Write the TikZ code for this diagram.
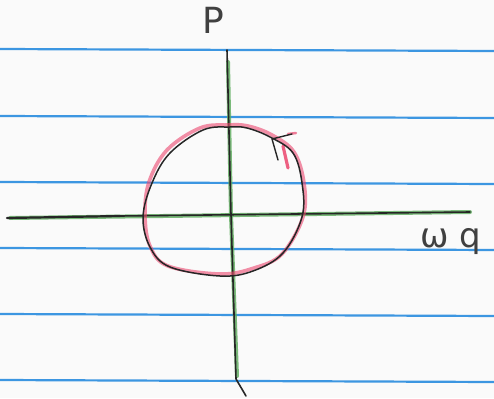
\documentclass[tikz,border=0pt]{standalone}
\usepackage{fontspec}
\setmainfont{DejaVu Sans}
\begin{document}
\begin{tikzpicture}[x=1pt,y=-1pt,line cap=round,line join=round,
  rule/.style={draw=ruleblue,line width=2.2pt},
  greenax/.style={draw=axgreen,line width=4pt,opacity=0.8},
  blackax/.style={draw=black!85,line width=1.6pt},
  redcurve/.style={draw=curvered,line width=3.6pt,opacity=0.6},
  blackcurve/.style={draw=black!85,line width=1.5pt},
  hand/.style={inner sep=0pt,text=black!75}]
\definecolor{ruleblue}{RGB}{60,150,225}
\definecolor{axgreen}{RGB}{90,170,90}
\definecolor{curvered}{RGB}{235,70,110}
\definecolor{paper}{RGB}{250,250,250}
\useasboundingbox (0,0) rectangle (494,398);
\fill[paper] (0,0) rectangle (494,398);
% ruled lines
\foreach \y in {50,117,183,249,315,381}
  \draw[rule] (0,\y-1) -- (494,\y+1);
% axes coordinates
\coordinate (vtop) at (227,50);
\coordinate (vmid) at (231,215);
\coordinate (vbot) at (236,379);
\coordinate (vhook) at (246,396);
\coordinate (hleft) at (7,218);
\coordinate (hmid) at (120,216);
\coordinate (hright) at (470,212);
% green under-strokes
\draw[greenax] (228,62) -- (vmid) -- (237,376);
\draw[greenax] (10,218) -- (hright);
% black axes
\draw[blackax] (vtop) -- (vmid) -- (vbot) -- (vhook);
\draw[blackax,line width=2.2pt] (hleft) -- (hmid);
\draw[blackax] (hmid) -- (hright);
% red curve
\draw[redcurve] plot[smooth cycle,tension=0.6] coordinates {
  (228,125) (200,128) (167,150) (149,182) (145,215) (150,246)
  (168,266) (220,274) (254,268) (282,254) (303,217) (304,183)
  (294,152) (272,135) (248,126)};
\draw[curvered,line width=3.2pt,opacity=0.85] (283,146) -- (288,168);
\draw[curvered,line width=2.5pt,opacity=0.7] (288,134) -- (296,133);
% black curve
\draw[blackcurve] plot[smooth cycle,tension=0.6] coordinates {
  (230,127) (203,130) (170,153) (152,183) (143,217) (150,247)
  (170,267) (220,276) (253,271) (283,253) (302,217) (302,183)
  (293,153) (270,137) (247,128)};
% arrowhead
\coordinate (tip) at (272,139);
\coordinate (barb1) at (292,134);
\coordinate (barb2) at (278,160);
\draw[blackcurve,line width=1.4pt] (barb1) -- (tip) -- (barb2);
% labels
\node[hand,font=\fontsize{36}{36}\selectfont] (P) at (213,20) {P};
\node[hand,font=\fontsize{34}{34}\selectfont,anchor=base west] (wq) at (420,247) {ω q};
\end{tikzpicture}
\end{document}
